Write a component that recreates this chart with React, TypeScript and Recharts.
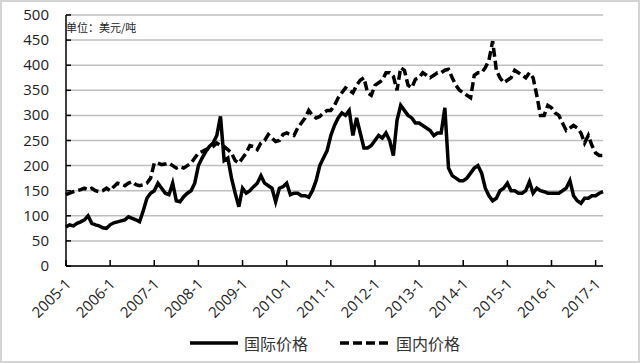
import { LineChart, Line, XAxis, YAxis, CartesianGrid } from "recharts";

// monthly prices, 2005-1 .. 2017-3 (USD / ton)
const START_YEAR = 2005;
const intlPrice = [
  78, 82, 80, 85, 88, 92, 100, 85, 82, 80, 76, 75,
  82, 86, 88, 90, 92, 98, 95, 92, 88, 110, 135, 145,
  150, 165, 155, 145, 142, 165, 130, 128, 138, 145, 150, 165,
  200, 215, 228, 238, 245, 260, 298, 210, 215, 175, 145, 118,
  155, 145, 150, 158, 165, 180, 165, 160, 155, 128, 155, 158,
  165, 142, 145, 145, 140, 140, 137, 150, 170, 200, 215, 230,
  260, 280, 295, 305, 300, 310, 260, 295, 265, 235, 235, 240,
  250, 260, 255, 265, 250, 220, 290, 320, 310, 300, 295, 285,
  285, 280, 275, 270, 260, 265, 265, 315, 195, 180, 175, 170,
  170, 175, 185, 195, 200, 185, 155, 140, 130, 135, 150, 155,
  165, 150, 150, 145, 145, 150, 168, 145, 155, 150, 148, 145,
  145, 145, 145, 150, 155, 170, 140, 130, 125, 135, 135, 140,
  140, 145, 148,
];
const domPrice = [
  142, 145, 148, 150, 152, 155, 152, 155, 150, 148, 150, 155,
  150, 158, 165, 163, 160, 165, 168, 162, 160, 162, 165, 175,
  205, 205, 202, 203, 205, 200, 195, 198, 195, 200, 205, 215,
  225, 228, 232, 235, 238, 245, 240, 238, 232, 225, 210, 205,
  215, 225, 240, 238, 232, 245, 250, 262, 255, 248, 250, 262,
  265, 262, 260, 275, 285, 295, 310, 300, 295, 298, 305, 310,
  310, 320, 335, 345, 355, 350, 345, 360, 370, 375, 345, 340,
  360, 365, 370, 385, 385, 378, 350, 395, 390, 360, 355, 372,
  375, 385, 380, 375, 380, 385, 385, 390, 392, 375, 360, 350,
  345, 340, 335, 380, 385, 385, 395, 410, 448, 390, 375, 365,
  370, 375, 390, 385, 380, 375, 385, 375, 340, 300, 300, 320,
  315, 305, 300, 285, 270, 275, 280, 275, 265, 245, 260, 240,
  225, 220, 220,
];
const xTicks = [
  "2005-1", "2006-1", "2007-1", "2008-1", "2009-1", "2010-1", "2011-1",
  "2012-1", "2013-1", "2014-1", "2015-1", "2016-1", "2017-1",
];
const yTicks = [0, 50, 100, 150, 200, 250, 300, 350, 400, 450, 500];
const seriesNames = ["国际价格", "国内价格"];

const data = intlPrice.map((v, i) => ({
  date: `${START_YEAR + Math.floor(i / 12)}-${(i % 12) + 1}`,
  intl: v,
  dom: domPrice[i],
}));

const NUM_FONT = "'Open Sans', 'Noto Sans', sans-serif";
const CJK_FONT = "'Noto Sans CJK SC', sans-serif";

const XTick = (props: any) => {
  const { x, y, payload } = props;
  const ax = x + 6;
  const ay = y + 19;
  return (
    <g>
      <line x1={x} y1={y} x2={x} y2={y - 6} stroke="#000" strokeWidth={1.5} />
      <text
        x={ax}
        y={ay}
        transform={`rotate(-45 ${ax} ${ay})`}
        textAnchor="end"
        fontSize={15}
        fontFamily={NUM_FONT}
        fill="#222"
      >
        {payload.value}
      </text>
    </g>
  );
};

const YTick = (props: any) => {
  const { x, y, payload } = props;
  return (
    <g>
      <line x1={x} y1={y} x2={x + 5} y2={y} stroke="#000" strokeWidth={1.5} />
      <text x={x - 17} y={y} dy={5} textAnchor="end" fontSize={15} fontFamily={NUM_FONT} fill="#222">
        {payload.value}
      </text>
    </g>
  );
};

export default function App() {
  return (
    <div
      style={{
        position: "absolute",
        left: 0,
        top: 0,
        width: 640,
        height: 363,
        background: "#fff",
        boxSizing: "border-box",
        border: "2px solid #d4d4d4",
      }}
    >
      <div style={{ position: "absolute", left: -2, top: -2 }}>
        <LineChart width={640} height={363} data={data} margin={{ top: 15, right: 37, bottom: 37, left: 0 }}>
          <CartesianGrid vertical={false} stroke="#bfbfbf" strokeWidth={1.5} />
          <XAxis
            dataKey="date"
            ticks={xTicks}
            interval={0}
            height={60}
            tickSize={0}
            tickMargin={0}
            tickLine={false}
            axisLine={{ stroke: "#000", strokeWidth: 1.5 }}
            tick={<XTick />}
          />
          <YAxis
            domain={[0, 500]}
            ticks={yTicks}
            width={66}
            tickSize={0}
            tickMargin={0}
            tickLine={false}
            axisLine={{ stroke: "#000", strokeWidth: 1.5 }}
            tick={<YTick />}
          />
          <Line
            type="linear"
            dataKey="dom"
            name={seriesNames[1]}
            stroke="#000"
            strokeWidth={3.5}
            strokeDasharray="9 4"
            dot={false}
            isAnimationActive={false}
          />
          <Line
            type="linear"
            dataKey="intl"
            name={seriesNames[0]}
            stroke="#000"
            strokeWidth={3.5}
            dot={false}
            isAnimationActive={false}
          />
        </LineChart>
      </div>
      <div
        style={{
          position: "absolute",
          left: 64,
          top: 17,
          fontFamily: CJK_FONT,
          fontSize: 11,
          color: "#222",
        }}
      >
        单位：美元/吨
      </div>
      <div
        style={{
          position: "absolute",
          left: 186,
          top: 329,
          display: "flex",
          alignItems: "center",
          fontFamily: CJK_FONT,
          fontSize: 16,
          color: "#333",
        }}
      >
        <svg width={52} height={8}>
          <line x1={2} y1={4} x2={50} y2={4} stroke="#000" strokeWidth={3.5} />
        </svg>
        <span style={{ marginLeft: 4 }}>{seriesNames[0]}</span>
        <svg width={52} height={8} style={{ marginLeft: 30 }}>
          <line x1={2} y1={4} x2={50} y2={4} stroke="#000" strokeWidth={3.5} strokeDasharray="9 4" />
        </svg>
        <span style={{ marginLeft: 6 }}>{seriesNames[1]}</span>
      </div>
    </div>
  );
}
